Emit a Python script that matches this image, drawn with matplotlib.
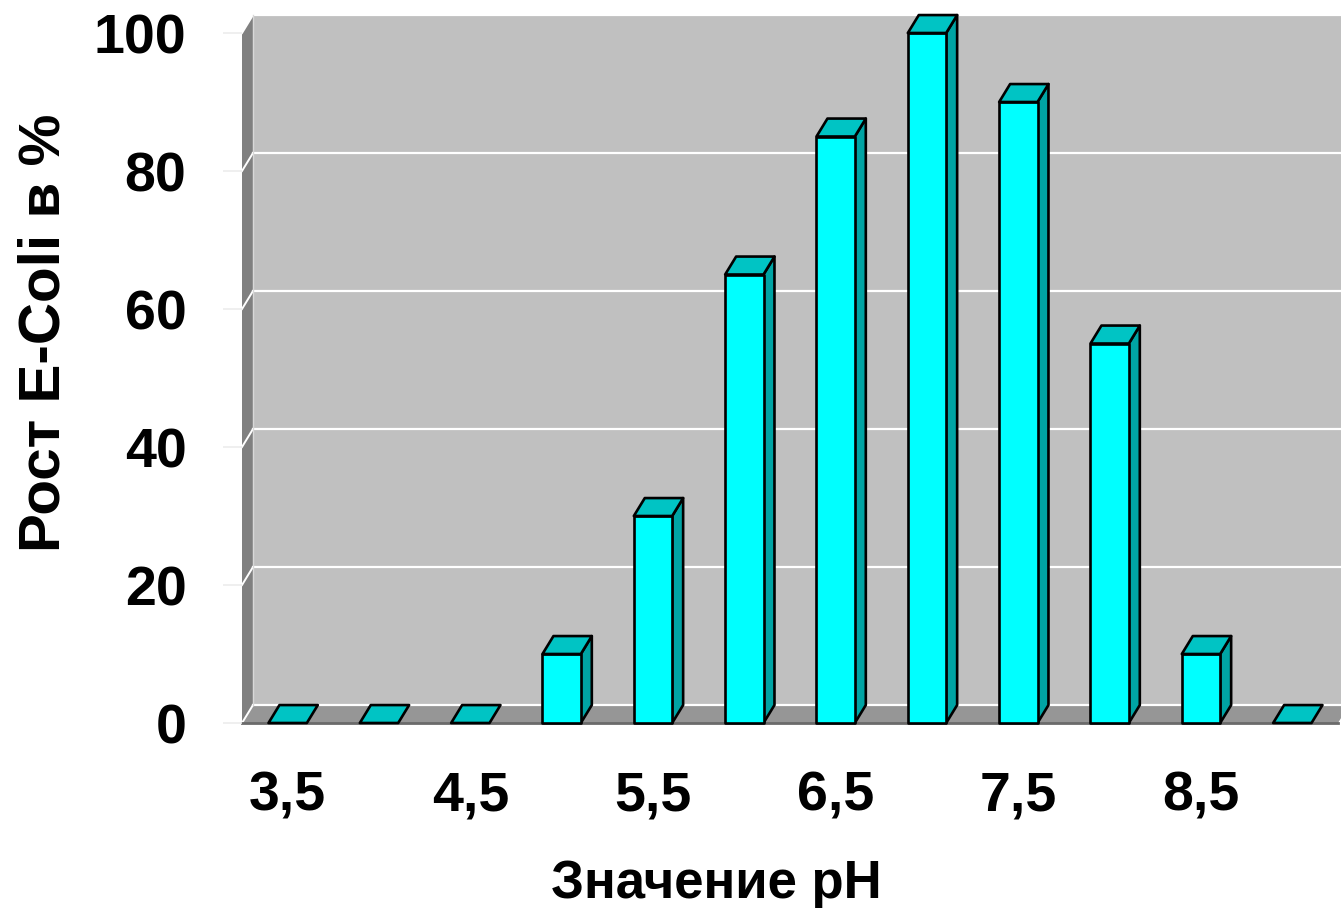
import matplotlib
matplotlib.use("Agg")
import matplotlib.pyplot as plt
from matplotlib.patches import Polygon

plt.rcParams['font.family'] = ['Liberation Sans', 'DejaVu Sans']
plt.rcParams['font.weight'] = 'bold'

# ---- data ----
categories = ["3,5", "4", "4,5", "5", "5,5", "6", "6,5", "7", "7,5", "8", "8,5", "9"]
growth = [0, 0, 0, 10, 30, 65, 85, 100, 90, 55, 10, 0]
tick_labels = ["3,5", "4,5", "5,5", "6,5", "7,5", "8,5"]
tick_index = [0, 2, 4, 6, 8, 10]
yticks = [0, 20, 40, 60, 80, 100]
ylabel = "Рост E-Coli в %"
xlabel = "Значение pH"

W, H = 1341, 908
fig = plt.figure(figsize=(W / 100, H / 100), dpi=100)
ax = fig.add_axes([242 / W, (H - 723) / H, 1096 / W, 690 / H])
n = len(categories)
ax.set_xlim(-0.5, n - 0.5)
ax.set_ylim(0, 100)
for s in ax.spines.values():
    s.set_visible(False)
ax.patch.set_visible(False)

dx, dy = 0.12, 2.6   # depth offset in data units
bw = 0.42            # bar width

x0, x1 = -0.5, n - 0.5
wall_c, side_c, floor_c = "#C0C0C0", "#808080", "#969696"

def poly(pts, **kw):
    p = Polygon(pts, closed=True, clip_on=False, **kw)
    ax.add_patch(p)
    return p

# back wall
poly([(x0 + dx, dy), (x1 + dx, dy), (x1 + dx, 100 + dy), (x0 + dx, 100 + dy)],
     facecolor=wall_c, edgecolor="none", zorder=1)
# left wall
poly([(x0, 0), (x0 + dx, dy), (x0 + dx, 100 + dy), (x0, 100)],
     facecolor=side_c, edgecolor="none", zorder=1)
# floor
poly([(x0, 0), (x1, 0), (x1 + dx, dy), (x0 + dx, dy)],
     facecolor=floor_c, edgecolor="none", zorder=1)
ax.plot([x0, x1], [0, 0], color="#6a6a6a", lw=2, clip_on=False, zorder=1.5)

# gridlines
for v in yticks:
    ax.plot([x0 + dx, x1 + dx], [v + dy, v + dy], color="white", lw=1.6,
            clip_on=False, zorder=1.2)
    ax.plot([x0, x0 + dx], [v, v + dy], color="white", lw=1.4,
            clip_on=False, zorder=1.2)
ax.plot([x0 + dx, x0 + dx], [dy, 100 + dy], color="#d8d8d8", lw=1.0,
        clip_on=False, zorder=1.2)

# bars
front_c, top_c, right_c = "#00FFFF", "#00C4C4", "#00A4A4"
for i, v in enumerate(growth):
    l, r = i - bw / 2, i + bw / 2
    kw = dict(edgecolor="black", linewidth=1.9, joinstyle="round", zorder=3)
    if v > 0:
        poly([(r, 0), (r + dx, dy), (r + dx, v + dy), (r, v)], facecolor=right_c, **kw)
        poly([(l, 0), (r, 0), (r, v), (l, v)], facecolor=front_c, **kw)
    poly([(l, v), (r, v), (r + dx, v + dy), (l + dx, v + dy)], facecolor=top_c, **kw)

# ticks
ax.set_yticks(yticks)
ax.set_yticklabels([str(v) for v in yticks], fontsize=40, fontweight="bold")
ax.tick_params(axis="y", length=14, width=1.2, color="#ececec", pad=26)
ax.set_xticks(tick_index)
ax.set_xticklabels(tick_labels, fontsize=40, fontweight="bold")
ax.tick_params(axis="x", length=0, pad=34)

fig.text(716 / W, 1 - 898 / H, xlabel, fontsize=38, fontweight="bold",
         ha="center", va="baseline")
fig.text(60 / W, 1 - 333 / H, ylabel, fontsize=42, fontweight="bold",
         ha="center", va="baseline", rotation=90, rotation_mode="anchor")

fig.savefig("out.png", dpi=100, facecolor="white")
